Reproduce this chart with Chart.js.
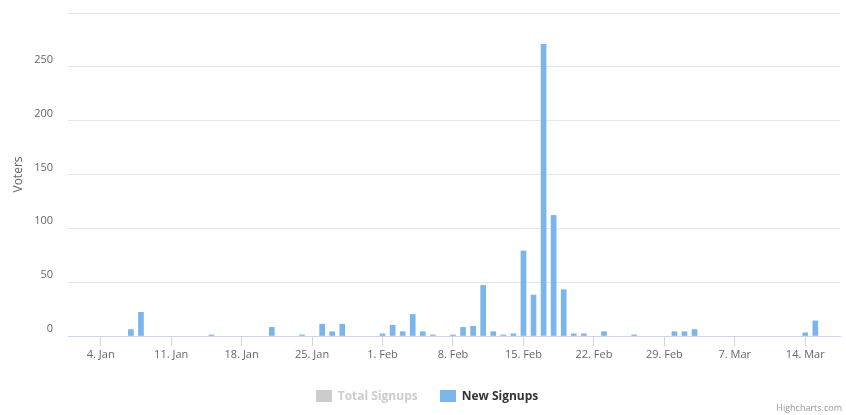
<!DOCTYPE html>
<html>
<head>
<meta charset="utf-8">
<script src="https://cdn.jsdelivr.net/npm/chart.js@4"></script>
<style>
html,body{margin:0;padding:0;background:#ffffff;}
#wrap{width:846px;height:415px;position:relative;}
</style>
</head>
<body>
<div id="wrap"><canvas id="c" width="846" height="415"></canvas></div>
<script>
// ---- data ----
const startDate = "2016-01-04";
const signupDates = [
  "2016-01-07","2016-01-08","2016-01-15","2016-01-21","2016-01-24","2016-01-26","2016-01-27","2016-01-28",
  "2016-02-01","2016-02-02","2016-02-03","2016-02-04","2016-02-05","2016-02-06","2016-02-08","2016-02-09",
  "2016-02-10","2016-02-11","2016-02-12","2016-02-13","2016-02-14","2016-02-15","2016-02-16","2016-02-17",
  "2016-02-18","2016-02-19","2016-02-20","2016-02-21","2016-02-23","2016-02-26","2016-03-01","2016-03-02",
  "2016-03-03","2016-03-14","2016-03-15"
];
const newSignups = [
  6, 22, 1, 8, 1, 11, 4, 11,
  2, 10, 4, 20, 4, 1, 1, 8,
  9, 47, 4, 1, 2, 79, 38, 271,
  112, 43, 2, 2, 4, 1, 4, 4,
  6, 3, 14
];
const totalSignups = []; // series is hidden (toggled off) in the legend
const tickDates = ["2016-01-04","2016-01-11","2016-01-18","2016-01-25","2016-02-01","2016-02-08",
                   "2016-02-15","2016-02-22","2016-02-29","2016-03-07","2016-03-14"];
const tickLabels = ["4. Jan","11. Jan","18. Jan","25. Jan","1. Feb","8. Feb",
                    "15. Feb","22. Feb","29. Feb","7. Mar","14. Mar"];
const yTickValues = [0, 50, 100, 150, 200, 250, 300];

// ---- helpers ----
const DAY = 86400000;
function dayIndex(d) { return Math.round((Date.parse(d) - Date.parse(startDate)) / DAY); }
const tickDays = tickDates.map(dayIndex);
const FONT = '"Open Sans", "Noto Sans", sans-serif';

const hcLegend = {
  id: 'hcLegend',
  afterDraw(chart, args, opts) {
    const ctx = chart.ctx;
    ctx.save();
    ctx.font = 'bold 12px ' + FONT;
    ctx.textBaseline = 'middle';
    const boxW = 16, boxH = 12, textGap = 6, itemGap = 22;
    const items = chart.data.datasets.map((ds, i) => ({
      text: ds.label,
      hidden: !chart.isDatasetVisible(i),
      color: ds.backgroundColor,
      w: boxW + textGap + ctx.measureText(ds.label).width
    }));
    const total = items.reduce((s, it) => s + it.w, 0) + itemGap * (items.length - 1);
    let x = opts.centerX - total / 2;
    const cy = opts.centerY;
    items.forEach(it => {
      ctx.fillStyle = it.hidden ? '#cccccc' : it.color;
      ctx.fillRect(Math.round(x), Math.round(cy - boxH / 2), boxW, boxH);
      ctx.fillStyle = it.hidden ? '#cccccc' : '#333333';
      ctx.textAlign = 'left';
      ctx.fillText(it.text, x + boxW + textGap, cy + 1);
      x += it.w + itemGap;
    });
    // credits
    ctx.font = '9px ' + FONT;
    ctx.fillStyle = '#999999';
    ctx.textAlign = 'right';
    ctx.textBaseline = 'alphabetic';
    ctx.fillText('Highcharts.com', opts.creditX, opts.creditY);
    ctx.restore();
  }
};

new Chart(document.getElementById('c'), {
  type: 'bar',
  data: {
    datasets: [
      {
        label: 'Total Signups',
        data: totalSignups,
        hidden: true,
        backgroundColor: '#434348'
      },
      {
        label: 'New Signups',
        data: signupDates.map((d, i) => ({ x: dayIndex(d), y: newSignups[i] })),
        backgroundColor: '#7cb5ec',
        borderWidth: 0,
        barThickness: 5
      }
    ]
  },
  options: {
    responsive: false,
    animation: false,
    devicePixelRatio: 1,
    layout: { padding: { top: 13, right: 6, bottom: 0, left: 0 } },
    plugins: {
      legend: { display: false },
      tooltip: { enabled: false },
      hcLegend: { centerX: 427, centerY: 395.5, creditX: 842, creditY: 411 }
    },
    scales: {
      x: {
        type: 'linear',
        offset: false,
        min: -3.25,
        max: 73.45,
        afterBuildTicks: s => { s.ticks = tickDays.map(v => ({ value: v })); },
        afterFit: s => { s.height = 79; s.paddingLeft = 0; s.paddingRight = 0; },
        ticks: {
          autoSkip: false,
          maxRotation: 0,
          padding: 2,
          color: '#666666',
          font: { family: FONT, size: 11 },
          callback: v => { const i = tickDays.indexOf(v); return i >= 0 ? tickLabels[i] : ''; }
        },
        grid: {
          offset: false,
          drawOnChartArea: false,
          drawTicks: true,
          tickLength: 10,
          tickColor: '#ccd6eb',
          color: '#ccd6eb'
        },
        border: { display: true, color: '#ccd6eb' }
      },
      y: {
        min: 0,
        max: 300,
        afterBuildTicks: s => { s.ticks = yTickValues.map(v => ({ value: v })); },
        afterFit: s => { s.width = 68; s.paddingTop = 0; s.paddingBottom = 0; },
        ticks: {
          padding: 15,
          labelOffset: -7,
          color: '#666666',
          font: { family: FONT, size: 11 },
          callback: v => (v === 300 ? '' : String(v))
        },
        grid: {
          drawTicks: false,
          tickLength: 0,
          color: c => (c.tick && c.tick.value === 0 ? 'rgba(0,0,0,0)' : '#e6e6e6')
        },
        border: { display: false },
        title: {
          display: true,
          text: 'Voters',
          color: '#666666',
          font: { family: FONT, size: 12 },
          padding: { top: 11, bottom: 0 }
        }
      }
    }
  },
  plugins: [hcLegend]
});
</script>
</body>
</html>
